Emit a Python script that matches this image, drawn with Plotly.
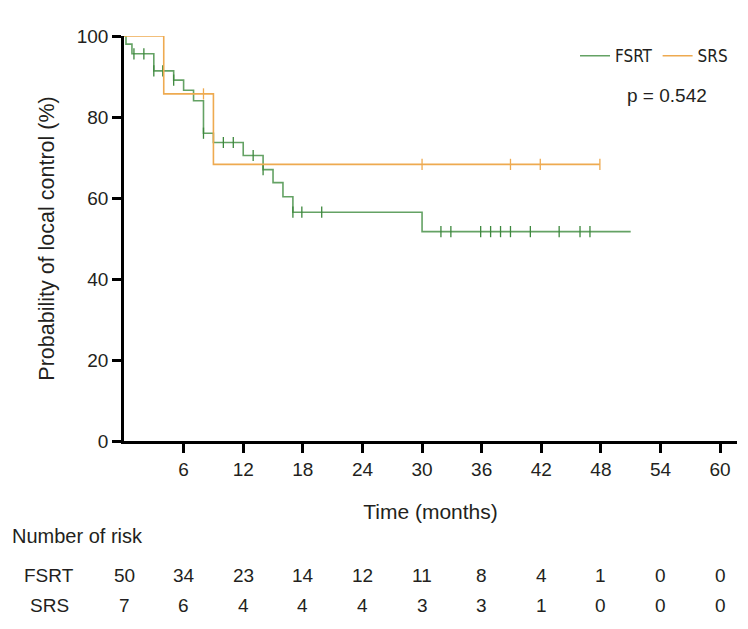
import plotly.graph_objects as go

# ---- data ----
fsrt_times = [0, 0.2, 0.8, 3.0, 5.0, 6.0, 7.0, 8.0, 9.0, 12.0, 14.0, 15.0, 16.0, 17.0, 30.0]
fsrt_surv = [100, 98.0, 95.6, 91.4, 89.1, 86.6, 84.0, 76.0, 73.7, 70.5, 67.0, 63.8, 60.3, 56.5, 51.7]
fsrt_end = 51.0
fsrt_censor = [1.0, 2.0, 3.0, 3.9, 5.0, 8.0, 10.0, 11.0, 13.0, 14.0, 17.0, 17.9, 19.9,
               31.9, 32.9, 35.9, 36.9, 37.9, 38.9, 40.9, 43.8, 45.9, 46.9]

srs_times = [0, 4.0, 9.0]
srs_surv = [100, 85.7, 68.3]
srs_end = 47.9
srs_censor = [8.0, 30.0, 38.9, 41.9, 47.9]

risk_times = [0, 6, 12, 18, 24, 30, 36, 42, 48, 54, 60]
risk_fsrt = [50, 34, 23, 14, 12, 11, 8, 4, 1, 0, 0]
risk_srs = [7, 6, 4, 4, 4, 3, 3, 1, 0, 0, 0]

x_ticks = [6, 12, 18, 24, 30, 36, 42, 48, 54, 60]
y_ticks = [0, 20, 40, 60, 80, 100]

GREEN = "#64a264"
GREEN_DARK = "#3d883d"
ORANGE = "#eeaa50"
TXT = "#231f20"
FONT = "Liberation Sans, Arial, sans-serif"
NARROW = "DejaVu Sans Condensed, Liberation Sans Narrow, Liberation Sans, sans-serif"


def surv_at(times, surv, t):
    v = surv[0]
    for ti, si in zip(times, surv):
        if ti <= t:
            v = si
    return v


fig = go.Figure()

for name, times, surv, end, cens, col, mcol in [
    ("FSRT", fsrt_times, fsrt_surv, fsrt_end, fsrt_censor, GREEN, GREEN_DARK),
    ("SRS", srs_times, srs_surv, srs_end, srs_censor, ORANGE, ORANGE),
]:
    fig.add_trace(go.Scatter(
        x=times + [end], y=surv + [surv[-1]], mode="lines",
        line=dict(color=col, width=1.6, shape="hv"), name=name,
    ))
    fig.add_trace(go.Scatter(
        x=cens, y=[surv_at(times, surv, c) for c in cens], mode="markers",
        marker=dict(symbol="line-ns-open", size=8, color=mcol, line=dict(color=mcol, width=1.3)),
        showlegend=False, hoverinfo="skip",
    ))

ann = []
row_y = [-0.331, -0.405]
for label, vals, yy in [("FSRT", risk_fsrt, row_y[0]), ("SRS", risk_srs, row_y[1])]:
    ann.append(dict(x=-0.122, xref="paper", y=yy, yref="paper", text=label, showarrow=False,
                    xanchor="center", yanchor="middle", font=dict(size=19, color=TXT, family=FONT)))
    for t, v in zip(risk_times, vals):
        ann.append(dict(x=t, xref="x", y=yy, yref="paper", text=str(v), showarrow=False,
                        xanchor="center", yanchor="middle", font=dict(size=19, color=TXT, family=FONT)))
ann.append(dict(x=-0.186, xref="paper", y=-0.235, yref="paper", text="Number of risk", showarrow=False,
                xanchor="left", yanchor="middle", font=dict(size=20, color=TXT, family=FONT)))
ann.append(dict(x=0.955, xref="paper", y=0.853, yref="paper", text="p = 0.542", showarrow=False,
                xanchor="right", yanchor="middle", font=dict(size=19, color=TXT, family=FONT)))

fig.update_layout(
    width=740, height=621,
    margin=dict(l=116, r=11, t=28, b=188),
    paper_bgcolor="white", plot_bgcolor="white",
    font=dict(family=FONT, size=19, color=TXT),
    showlegend=True,
    legend=dict(orientation="h", x=0.9935, xanchor="right", y=0.95, yanchor="middle",
                font=dict(size=17, color=TXT, family=NARROW), itemwidth=30, tracegroupgap=0,
                bgcolor="rgba(0,0,0,0)"),
    annotations=ann,
    xaxis=dict(range=[0, 61.7], tickvals=x_ticks, showgrid=False, zeroline=False,
               showline=True, linecolor="black", linewidth=2.5,
               ticks="outside", ticklen=9, tickwidth=2.5, tickcolor="black",
               tickfont=dict(size=19, color=TXT),
               title=dict(text="Time (months)", font=dict(size=21, color=TXT), standoff=26)),
    yaxis=dict(range=[0, 100], tickvals=y_ticks, showgrid=False, zeroline=False,
               showline=True, linecolor="black", linewidth=2.5,
               ticks="outside", ticklen=9, tickwidth=2.5, tickcolor="black",
               tickfont=dict(size=19, color=TXT),
               title=dict(text="Probability of local control (%)", font=dict(size=21.5, color=TXT), standoff=17)),
)

fig.write_html("out.html")
